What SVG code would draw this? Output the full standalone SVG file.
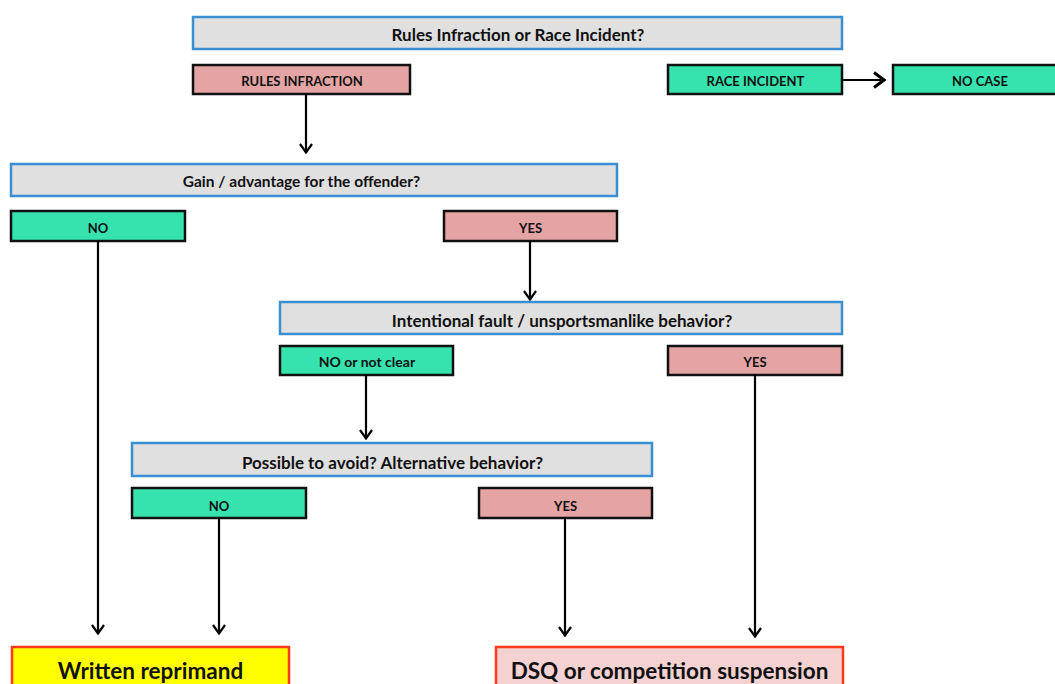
<svg xmlns="http://www.w3.org/2000/svg" width="1055" height="684" viewBox="0 0 1055 684">
<style>
text { font-family: Lato, "Open Sans", "Liberation Sans", sans-serif; font-weight: bold; fill: #111; text-anchor: middle; dominant-baseline: central; }
.q { fill: #e0e0e0; stroke: #3a8fd3; stroke-width: 2.5; }
.red { fill: #e4a4a4; stroke: #111; stroke-width: 2.5; }
.grn { fill: #36e2ae; stroke: #111; stroke-width: 2.5; }
.qt { font-size: 17px; }
.lt { font-size: 13px; }
.lm { font-size: 14px; }
.big { font-size: 22.5px; }
.conn { stroke: #000; stroke-width: 2.2; fill: none; }
</style>
<defs>
<marker id="ah" viewBox="0 0 12 14" refX="11" refY="7" markerWidth="12" markerHeight="14" markerUnits="userSpaceOnUse" orient="auto">
<path d="M2,1 L10.5,7 L2,13" fill="none" stroke="#000" stroke-width="2.2"/>
</marker>
<marker id="ahb" viewBox="0 0 14 18" refX="13" refY="9" markerWidth="14" markerHeight="18" markerUnits="userSpaceOnUse" orient="auto">
<path d="M2,1.5 L12,9 L2,16.5" fill="none" stroke="#000" stroke-width="3.2"/>
</marker>
</defs>
<rect width="1055" height="684" fill="#fff"/>

<g id="q1"><rect class="q" x="193" y="17" width="649" height="32"/><text class="qt" x="518" y="34">Rules Infraction or Race Incident?</text></g>
<g id="rules-infraction"><rect class="red" x="193" y="65" width="217" height="29"/><text class="lt" x="302" y="81">RULES INFRACTION</text></g>
<g id="race-incident"><rect class="grn" x="668" y="65" width="174" height="29"/><text class="lt" x="755.5" y="81">RACE INCIDENT</text></g>
<g id="no-case"><rect class="grn" x="893" y="65" width="170" height="29"/><text class="lt" x="980" y="81">NO CASE</text></g>

<g id="q2"><rect class="q" x="11" y="164" width="606" height="32"/><text class="qt" x="301.5" y="181" style="font-size:15.5px">Gain / advantage for the offender?</text></g>
<g id="q2-no"><rect class="grn" x="11" y="211" width="174" height="30"/><text class="lt" x="98" y="228">NO</text></g>
<g id="q2-yes"><rect class="red" x="444" y="211" width="173" height="30"/><text class="lt" x="530.5" y="228">YES</text></g>

<g id="q3"><rect class="q" x="280" y="302" width="562" height="32"/><text class="qt" x="562" y="320">Intentional fault / unsportsmanlike behavior?</text></g>
<g id="q3-no"><rect class="grn" x="280" y="346" width="173" height="29"/><text class="lm" x="367" y="361.5">NO or not clear</text></g>
<g id="q3-yes"><rect class="red" x="668" y="346" width="174" height="29"/><text class="lt" x="755" y="361.5">YES</text></g>

<g id="q4"><rect class="q" x="132" y="443" width="520" height="33"/><text class="qt" x="392.5" y="462">Possible to avoid? Alternative behavior?</text></g>
<g id="q4-no"><rect class="grn" x="132" y="488" width="174" height="30"/><text class="lt" x="219" y="505.5">NO</text></g>
<g id="q4-yes"><rect class="red" x="479" y="488" width="173" height="30"/><text class="lt" x="565.5" y="505.5">YES</text></g>

<g id="written-reprimand"><rect x="12" y="647" width="277" height="50" fill="#ffff00" stroke="#ff3a1a" stroke-width="2.5"/><text class="big" x="150.5" y="670">Written reprimand</text></g>
<g id="dsq"><rect x="496" y="647" width="347" height="50" fill="#f4d2d2" stroke="#ff3a1a" stroke-width="2.5"/><text class="big" x="669.5" y="670">DSQ or competition suspension</text></g>

<g id="connectors">
<line class="conn" x1="842" y1="80" x2="885" y2="80" stroke-width="3" marker-end="url(#ahb)"/>
<line class="conn" x1="306" y1="94" x2="306" y2="153" marker-end="url(#ah)"/>
<line class="conn" x1="98" y1="241" x2="98" y2="634" marker-end="url(#ah)"/>
<line class="conn" x1="530" y1="241" x2="530" y2="300" marker-end="url(#ah)"/>
<line class="conn" x1="366" y1="375" x2="366" y2="439" marker-end="url(#ah)"/>
<line class="conn" x1="755" y1="375" x2="755" y2="637" marker-end="url(#ah)"/>
<line class="conn" x1="219" y1="518" x2="219" y2="634" marker-end="url(#ah)"/>
<line class="conn" x1="565" y1="518" x2="565" y2="636" marker-end="url(#ah)"/>
</g>
</svg>
